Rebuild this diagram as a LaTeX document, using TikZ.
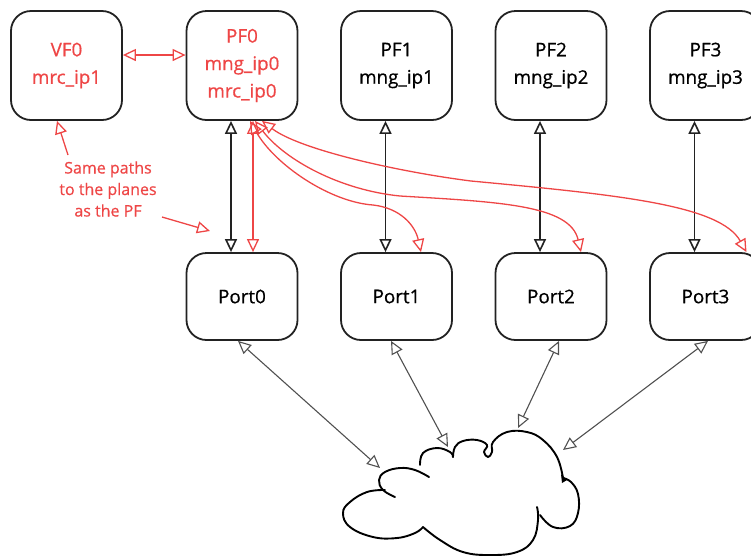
\documentclass[tikz,border=0pt]{standalone}
\usepackage{fontspec}
\setmainfont[FakeBold=0.6]{Open Sans}
\usetikzlibrary{arrows.meta}
\definecolor{ink}{HTML}{222222}
\definecolor{warn}{HTML}{EE4646}
\definecolor{wire}{HTML}{505050}
\tikzset{
  box/.style={draw=ink, line width=1.8pt, rounded corners=20pt, minimum width=111pt,
    align=center, font=\fontsize{18.8}{27.5}\selectfont, inner sep=0pt},
  pfbox/.style={box, minimum height=109pt},
  portbox/.style={box, minimum height=87pt},
  hot/.style={text=warn},
  opentip/.tip={Triangle[open, length=13pt, width=12pt]},
  link/.style={draw=ink, line width=1.6pt, {opentip}-{opentip}},
  redlink/.style={draw=warn, line width=1.3pt, {opentip}-{opentip}},
  redpoint/.style={draw=warn, line width=1.3pt, -{opentip}},
  netlink/.style={draw=wire, line width=1.1pt, {opentip}-{opentip}},
  cloudline/.style={draw=black, line width=1.9pt, line cap=round, line join=round}
}
\begin{document}
\begin{tikzpicture}[x=1pt, y=1pt]
\clip (0,0) rectangle (751,-558);
\useasboundingbox (0,0) rectangle (751,-558);

% functions
\node[pfbox, hot] (VF0) at (66.5,-65.5) {VF0\\mrc\_ip1};
\node[pfbox, hot] (PF0) at (242,-65.5) {PF0\\mng\_ip0\\mrc\_ip0};
\node[pfbox] (PF1) at (396.5,-65.5) {PF1\\mng\_ip1};
\node[pfbox] (PF2) at (551,-65.5) {PF2\\mng\_ip2};
\node[pfbox] (PF3) at (705.5,-65.5) {PF3\\mng\_ip3};

% ports
\node[portbox] (Port0) at (242,-296.5) {Port0};
\node[portbox] (Port1) at (396.5,-296.5) {Port1};
\node[portbox] (Port2) at (551,-296.5) {Port2};
\node[portbox] (Port3) at (705.5,-296.5) {Port3};

% note
\node[align=center, text=warn, font=\fontsize{16}{21.5}\selectfont, inner sep=0pt]
  (note) at (108,-189) {Same paths\\to the planes\\as the PF};
\coordinate (noteA) at (68,-155);
\coordinate (noteB) at (162,-217);
\coordinate (noteT) at (210,-231);

% VF0 <-> PF0
\draw[redlink] ([yshift=10.5pt]VF0.east) -- ([yshift=10.5pt]PF0.west);

% PF <-> Port
\draw[link] ([xshift=-11pt]PF0.south) -- ([xshift=-11pt]Port0.north);
\draw[link] ([xshift=-11pt]PF1.south) -- ([xshift=-11pt]Port1.north);
\draw[link] ([xshift=-11pt]PF2.south) -- ([xshift=-11pt]Port2.north);
\draw[link] ([xshift=-11pt]PF3.south) -- ([xshift=-11pt]Port3.north);

% PF0 to every port
\draw[redlink] ([xshift=11pt]PF0.south) -- ([xshift=11pt]Port0.north);
\draw[redlink] ([xshift=8pt]PF0.south) .. controls (275,-165) and (330,-202) .. (373,-205)
  .. controls (400,-208) and (415,-225) .. ([xshift=24.5pt]Port1.north);
\draw[redlink] ([xshift=13pt]PF0.south) .. controls (285,-160) and (340,-190) .. (400,-196)
  .. controls (500,-202) and (570,-205) .. ([xshift=30pt]Port2.north);
\draw[redlink] ([xshift=20pt]PF0.south) .. controls (300,-150) and (400,-172) .. (471,-181)
  .. controls (620,-195) and (720,-205) .. ([xshift=41pt]Port3.north);

% note pointers
\draw[redpoint] (noteA) -- ([xshift=-9.5pt]VF0.south);
\draw[redpoint] (noteB) -- (noteT);

% network cloud
\draw[cloudline] plot[smooth, tension=0.7] coordinates
  {(420,-465) (423,-453) (437,-448) (450,-452) (453,-457)};
\draw[cloudline] plot[smooth, tension=0.7] coordinates
  {(453,-457) (455,-447) (463,-441) (477,-440) (487,-445) (484,-452) (488,-457) (492,-452)
   (493,-442) (507,-432) (527,-432) (543,-440) (557,-457) (563,-478)};
\draw[cloudline] plot[smooth, tension=0.7] coordinates
  {(563,-478) (571,-482) (578,-494) (578,-513) (570,-526) (553,-527) (540,-515)};
\draw[cloudline] plot[smooth, tension=0.7] coordinates
  {(537,-507) (538,-520) (533,-540) (517,-552) (490,-555) (463,-552) (440,-540) (423,-527)};
\draw[cloudline] plot[smooth, tension=0.7] coordinates
  {(423,-527) (415,-533) (397,-538) (373,-537) (350,-527) (343,-513) (350,-502) (367,-492) (385,-490)};
\draw[cloudline] plot[smooth, tension=0.7] coordinates
  {(395,-497) (383,-490) (379,-480) (385,-472) (400,-468) (415,-470) (429,-477)};
\fill (561,-474) -- (567,-480) -- (562,-483) -- cycle;

\coordinate (net0) at (380,-468);
\coordinate (net1) at (448,-447);
\coordinate (net2) at (518,-428);
\coordinate (net3) at (563,-450);

% ports to network
\draw[netlink] ([xshift=-4pt]Port0.south) -- (net0);
\draw[netlink] ([xshift=-5.5pt]Port1.south) -- (net1);
\draw[netlink] ([xshift=8pt]Port2.south) -- (net2);
\draw[netlink] ([xshift=2.5pt]Port3.south) -- (net3);
\end{tikzpicture}
\end{document}
